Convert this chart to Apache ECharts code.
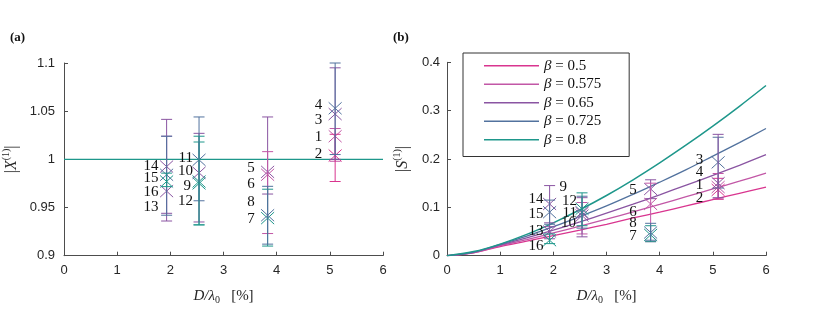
<!DOCTYPE html>
<html>
<head>
<meta charset="utf-8">
<script src="https://cdn.jsdelivr.net/npm/echarts@6/dist/echarts.min.js"></script>
<style>
html,body{margin:0;padding:0;background:#fff;}
#c{width:830px;height:319px;}
</style>
</head>
<body>
<div id="c"></div>
<script>
// ---------------- data ----------------
const betaNames = ['0.5', '0.575', '0.65', '0.725', '0.8'];
const xTicks = [0, 1, 2, 3, 4, 5, 6];

const pointIds = [1, 2, 3, 4, 5, 6, 7, 8, 9, 10, 11, 12, 13, 14, 15, 16];
const pointX   = [5.1, 5.1, 5.1, 5.1, 3.83, 3.83, 3.83, 3.83, 2.54, 2.54, 2.54, 2.54, 1.93, 1.93, 1.93, 1.93];

// panel (a): |X^(1)|
const xValA = [1.024, 1.004, 1.047, 1.053, 0.987, 0.984, 0.939, 0.942, 0.977, 0.986, 0.9995, 0.975, 0.967, 0.9925, 0.984, 0.977];
const xLoA  = [0.998, 0.977, 1.000, 1.005, 0.964, 0.923, 0.910, 0.912, 0.932, 0.935, 0.957, 0.932, 0.936, 0.944, 0.942, 0.9717];
const xHiA  = [1.032, 1.026, 1.095, 1.100, 1.044, 1.008, 0.969, 0.972, 1.018, 1.027, 1.044, 1.024, 1.024, 1.0415, 1.024, 0.9857];
const betaIdxA = [1, 0, 2, 3, 2, 1, 4, 3, 4, 2, 3, 4, 2, 2, 3, 4];
const refLineA = [[0, 1], [6, 1]];

// panel (b): |S^(1)|
const sValB = [0.142, 0.136, 0.193, 0.150, 0.138, 0.107, 0.043, 0.048, 0.088, 0.083, 0.090, 0.097, 0.050, 0.107, 0.090, 0.032];
const sLoB  = [0.117, 0.117, 0.140, 0.120, 0.118, 0.029, 0.029, 0.032, 0.045, 0.039, 0.057, 0.062, 0.035, 0.060, 0.065, 0.025];
const sHiB  = [0.170, 0.160, 0.245, 0.251, 0.157, 0.150, 0.062, 0.067, 0.110, 0.120, 0.123, 0.130, 0.068, 0.145, 0.115, 0.045];
const betaIdxB = [1, 0, 3, 2, 2, 1, 4, 3, 1, 2, 3, 4, 2, 2, 3, 4];

// model curves
const curveX = [0, 0.5, 1, 1.5, 2, 2.5, 3, 3.5, 4, 4.5, 5, 5.5, 6];
const curve050  = [0, 0.006, 0.019, 0.030, 0.0415, 0.053, 0.065, 0.078, 0.090, 0.103, 0.116, 0.129, 0.142];
const curve0575 = [0, 0.0065, 0.0206, 0.0333, 0.047, 0.061, 0.0755, 0.0905, 0.106, 0.122, 0.138, 0.154, 0.171];
const curve065  = [0, 0.007, 0.0223, 0.037, 0.053, 0.070, 0.088, 0.1065, 0.126, 0.146, 0.166, 0.187, 0.209];
const curve0725 = [0, 0.0075, 0.0234, 0.0405, 0.060, 0.081, 0.103, 0.127, 0.152, 0.178, 0.206, 0.234, 0.263];
const curve080  = [0, 0.0085, 0.024, 0.044, 0.068, 0.095, 0.1245, 0.157, 0.192, 0.229, 0.268, 0.309, 0.352];
const curves = [curve050, curve0575, curve065, curve0725, curve080];

// ---------------- styles / layout ----------------
const COLORS = ['#d9358f', '#c257a6', '#8a55a2', '#52729e', '#1e978b'];
const TXT = '#262626';
const AXC = '#4d4d4d';
const SANS = '"Liberation Sans", Arial, sans-serif';
const SERIF = '"Liberation Serif", "Times New Roman", serif';

// label offsets in pixels relative to each point (dx of right edge, dy of centre)
const labelOffA = {
  1: [-13, 1], 2: [-13, -1], 3: [-13, 6], 4: [-13, -3],
  5: [-13, -4], 6: [-13, 9.5], 7: [-13, 1], 8: [-13, -13],
  9: [-8, 5], 10: [-6, -2], 11: [-6, -1.5], 12: [-6, 18],
  13: [-8, 15.5], 14: [-8, -1], 15: [-8, 3], 16: [-8, 11]
};
const labelOffB = {
  1: [-15, -2], 2: [-15, 8.5], 3: [-15, -2.5], 4: [-15, -11],
  5: [-14, 1.5], 6: [-14, 8.5], 7: [-14, 1], 8: [-14, -9],
  9: [-15, -26], 10: [-6, 7.5], 11: [-5, 0.5], 12: [-5, -8],
  13: [-6, -0.5], 14: [-6, -4.5], 15: [-6, 2], 16: [-6, 6]
};

function buildPoints(vals, lo, hi, bidx) {
  return pointIds.map((id, i) => [pointX[i], vals[i], lo[i], hi[i], bidx[i], id]);
}

function makeRender(offsets) {
  return function (params, api) {
    const x = api.value(0), y = api.value(1), lo = api.value(2), hi = api.value(3);
    const c = COLORS[api.value(4)];
    const id = api.value(5);
    const p = api.coord([x, y]);
    const pl = api.coord([x, lo]);
    const ph = api.coord([x, hi]);
    const cw = 5.5, mx = 6.5, my = 6;
    const ls = { stroke: c, lineWidth: 1, fill: null };
    const off = offsets[id] || [-8, 0];
    return {
      type: 'group',
      children: [
        { type: 'line', shape: { x1: pl[0], y1: pl[1], x2: ph[0], y2: ph[1] }, style: ls },
        { type: 'line', shape: { x1: pl[0] - cw, y1: pl[1], x2: pl[0] + cw, y2: pl[1] }, style: ls },
        { type: 'line', shape: { x1: ph[0] - cw, y1: ph[1], x2: ph[0] + cw, y2: ph[1] }, style: ls },
        { type: 'line', shape: { x1: p[0] - mx, y1: p[1] - my, x2: p[0] + mx, y2: p[1] + my }, style: ls },
        { type: 'line', shape: { x1: p[0] - mx, y1: p[1] + my, x2: p[0] + mx, y2: p[1] - my }, style: ls },
        { type: 'text', x: p[0] + off[0], y: p[1] + off[1],
          style: { text: String(id), align: 'right', verticalAlign: 'middle',
                   font: '15px ' + SERIF, fill: '#111' } }
      ]
    };
  };
}

function xAxisCfg(gridIndex) {
  return {
    gridIndex, type: 'value', min: 0, max: 6, interval: 1,
    name: '{i|D/λ}{n|0}{s|   [%]}', nameLocation: 'middle', nameGap: 30,
    nameTextStyle: { rich: {
      i: { fontFamily: SERIF, fontStyle: 'italic', fontSize: 15, color: TXT, lineHeight: 20 },
      n: { fontFamily: SERIF, fontSize: 10, color: TXT, verticalAlign: 'bottom' },
      s: { fontFamily: SERIF, fontSize: 15, color: TXT, lineHeight: 20 }
    } },
    axisLine: { show: true, onZero: false, lineStyle: { color: AXC, width: 1 } },
    axisTick: { show: true, inside: true, length: 4, lineStyle: { color: AXC } },
    axisLabel: { color: TXT, fontFamily: SANS, fontSize: 13, margin: 8,
                 formatter: v => String(xTicks[Math.round(v)]) },
    splitLine: { show: false }
  };
}

const yRich = {
  n: { fontFamily: SERIF, fontSize: 16, color: TXT, lineHeight: 22 },
  i: { fontFamily: SERIF, fontStyle: 'italic', fontSize: 16, color: TXT, lineHeight: 22 },
  u: { fontFamily: SERIF, fontSize: 10, color: TXT, verticalAlign: 'top' }
};

const option = {
  animation: false,
  backgroundColor: '#fff',
  graphic: [
    { type: 'text', left: 10, top: 31, style: { text: '(a)', font: 'bold 13px ' + SERIF, fill: '#111' } },
    { type: 'text', left: 393, top: 31, style: { text: '(b)', font: 'bold 13px ' + SERIF, fill: '#111' } }
  ],
  grid: [
    { left: 63, top: 63, width: 320, height: 192.7 },
    { left: 447, top: 62.3, width: 319, height: 193.4 }
  ],
  xAxis: [xAxisCfg(0), xAxisCfg(1)],
  yAxis: [
    {
      gridIndex: 0, type: 'value', min: 0.9, max: 1.1, interval: 0.05,
      name: '{n||}{i|X}{u|(1)}{n||}', nameLocation: 'middle', nameGap: 41,
      nameTextStyle: { rich: yRich },
      axisLine: { show: true, onZero: false, lineStyle: { color: AXC, width: 1 } },
      axisTick: { show: true, inside: true, length: 4, lineStyle: { color: AXC } },
      axisLabel: { color: TXT, fontFamily: SANS, fontSize: 13, margin: 9 },
      splitLine: { show: false }
    },
    {
      gridIndex: 1, type: 'value', min: 0, max: 0.4, interval: 0.1,
      name: '{n||}{i|S}{u|(1)}{n||}', nameLocation: 'middle', nameGap: 33,
      nameTextStyle: { rich: yRich },
      axisLine: { show: true, onZero: false, lineStyle: { color: AXC, width: 1 } },
      axisTick: { show: true, inside: true, length: 4, lineStyle: { color: AXC } },
      axisLabel: { color: TXT, fontFamily: SANS, fontSize: 13, margin: 7 },
      splitLine: { show: false }
    }
  ],
  legend: {
    data: betaNames,
    orient: 'vertical',
    left: 463, top: 53,
    padding: [4, 28, 8, 21],
    icon: 'rect',
    itemWidth: 55, itemHeight: 1.5, itemGap: 1,
    borderColor: '#333', borderWidth: 1, backgroundColor: '#fff',
    borderRadius: 0,
    formatter: name => '{b|β} = ' + name,
    textStyle: { fontFamily: SERIF, fontSize: 15, color: '#111', lineHeight: 17.5,
      rich: { b: { fontFamily: SERIF, fontStyle: 'italic', fontSize: 15, color: '#111', lineHeight: 17.5 } } }
  },
  series: [
    {
      type: 'line', name: 'ref', xAxisIndex: 0, yAxisIndex: 0, data: refLineA,
      symbol: 'none', lineStyle: { color: COLORS[4], width: 1.2 }, z: 1
    },
    {
      type: 'custom', name: 'ptsA', xAxisIndex: 0, yAxisIndex: 0,
      data: buildPoints(xValA, xLoA, xHiA, betaIdxA),
      renderItem: makeRender(labelOffA), z: 3, clip: false
    },
    ...curves.map((cv, k) => ({
      type: 'line', name: betaNames[k], xAxisIndex: 1, yAxisIndex: 1,
      data: curveX.map((x, i) => [x, cv[i]]),
      smooth: 0.35, symbol: 'none', showSymbol: false,
      itemStyle: { color: COLORS[k] },
      lineStyle: { color: COLORS[k], width: k === 4 ? 1.5 : 1.3 }, z: 2
    })),
    {
      type: 'custom', name: 'ptsB', xAxisIndex: 1, yAxisIndex: 1,
      data: buildPoints(sValB, sLoB, sHiB, betaIdxB),
      renderItem: makeRender(labelOffB), z: 3, clip: false
    }
  ]
};

const chart = echarts.init(document.getElementById('c'), null, { renderer: 'canvas' });
chart.setOption(option);
</script>
</body>
</html>
